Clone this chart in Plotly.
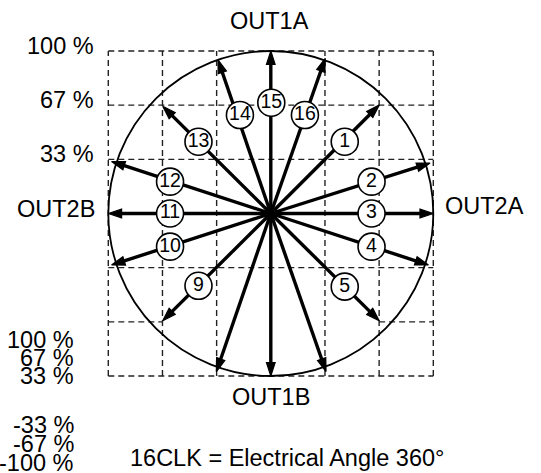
import plotly.graph_objects as go

W, H = 541, 473
CX, CY, SCALE = 270.8, 213.5, 1.625  # pixel centre, pixels per percent

# ---- data (percent of full current) ----
steps = list(range(1, 17))
tip_x = [66.7, 98, 100, 97, 66.7, 34, 0, -33.5, -66.5, -98, -100, -98, -66.5, -32.5, 0, 33.5]
tip_y = [66.7, 31, 0, -31.7, -66, -97.3, -100, -97.3, -66, -31.7, 0, 32, 66, 94.6, 100, 95.5]

label_steps = [1, 2, 3, 4, 5, 9, 10, 11, 12, 13, 14, 15, 16]
label_x = [45.5, 62, 62, 62, 45.5, -44.5, -62, -62, -62, -44.5, -19, 0.3, 21]
label_y = [44.2, 19.6, 0, -20.4, -45, -44.5, -20.4, 0, 19.6, 44.2, 60.6, 68.2, 60.6]

grid_levels = [-100, -200 / 3, -100 / 3, 100 / 3, 200 / 3, 100]
tick_levels = [100, 200 / 3, 100 / 3]
tick_labels = ["100 %", "67 %", "33 %"]
legend_labels = ["100 %", "67 %", "33 %", "-33 %", "-67 %", "-100 %"]
legend_py = [339.5, 357.5, 375.5, 424.5, 444, 463]

FONT = "Liberation Sans, Arial, sans-serif"
FS = 23.5

fig = go.Figure()

# grid (dashed)
dash = dict(color="#222222", width=1.4, dash="6px,4px")
shapes = []
for v in grid_levels:
    shapes.append(dict(type="line", x0=v, x1=v, y0=-100, y1=100, line=dash, layer="below"))
for v in grid_levels:
    if abs(v + 200 / 3) < 1e-6:
        shapes.append(dict(type="line", x0=-100, x1=-200 / 3, y0=v, y1=v, line=dash, layer="below"))
        shapes.append(dict(type="line", x0=200 / 3, x1=100, y0=v, y1=v, line=dash, layer="below"))
    else:
        shapes.append(dict(type="line", x0=-100, x1=100, y0=v, y1=v, line=dash, layer="below"))
# circle
shapes.append(dict(type="circle", x0=-100, x1=100, y0=-100, y1=100,
                   line=dict(color="black", width=1.8), layer="below"))

# arrows: line from origin to tip, arrow marker at the tip
for s, x, y in zip(steps, tip_x, tip_y):
    fig.add_trace(go.Scatter(
        x=[0, x], y=[0, y], mode="lines+markers",
        line=dict(color="black", width=3.4),
        marker=dict(symbol="arrow", size=[0, 14], angleref="previous", color="black",
                    opacity=1, line=dict(width=1.2, color="black")),
        hoverinfo="skip", showlegend=False, cliponaxis=False))

# circled step labels (on top of arrows)
fig.add_trace(go.Scatter(
    x=label_x, y=label_y, mode="markers+text",
    text=[str(s) for s in label_steps], textposition="middle center",
    textfont=dict(family=FONT, size=19.5, color="black"),
    marker=dict(size=27, color="white", line=dict(color="black", width=1.6)),
    hoverinfo="skip", showlegend=False, cliponaxis=False))

annotations = []

def px2paper(px, py):
    return px / W, 1 - py / H

# tick labels at top-left
for lv, t in zip(tick_levels, tick_labels):
    annotations.append(dict(x=-107.5, y=lv, xref="x", yref="y", text=t, showarrow=False,
                            xanchor="right", yanchor="middle", yshift=5.5,
                            font=dict(family=FONT, size=FS, color="black")))

# bottom-left list
for t, py in zip(legend_labels, legend_py):
    px_, py_ = px2paper(76, py)
    annotations.append(dict(x=px_, y=py_, xref="paper", yref="paper", text=t, showarrow=False,
                            xanchor="right", yanchor="middle",
                            font=dict(family=FONT, size=FS, color="black")))

texts = [("OUT1A", 269.2, 20.5), ("OUT1B", 270.8, 396.5), ("OUT2B", 55.5, 208.7),
         ("OUT2A", 484.5, 206), ("16CLK = Electrical Angle 360°", 286.5, 458)]
for t, px, py in texts:
    xx, yy = px2paper(px, py)
    annotations.append(dict(x=xx, y=yy, xref="paper", yref="paper", text=t, showarrow=False,
                            xanchor="center", yanchor="middle",
                            font=dict(family=FONT, size=FS, color="black")))

fig.update_layout(
    width=W, height=H, autosize=False,
    margin=dict(l=0, r=0, t=0, b=0),
    paper_bgcolor="white", plot_bgcolor="white",
    shapes=shapes, annotations=annotations, showlegend=False,
    xaxis=dict(range=[(0 - CX) / SCALE, (W - CX) / SCALE], visible=False, fixedrange=True),
    yaxis=dict(range=[(CY - H) / SCALE, CY / SCALE], visible=False, fixedrange=True),
)

fig.write_html("out.html", config={"displayModeBar": False},
               post_script="document.body.style.margin='0px';document.body.style.overflow='hidden';")
